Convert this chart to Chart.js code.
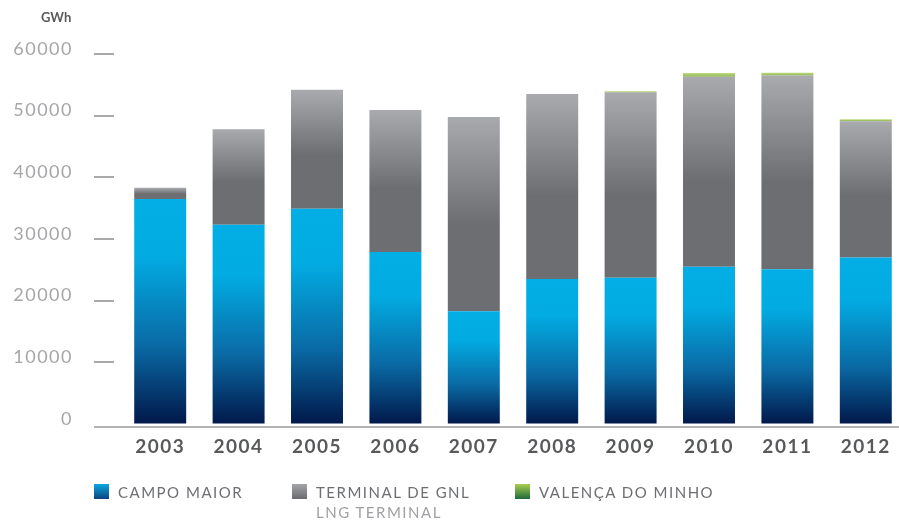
<!DOCTYPE html>
<html>
<head>
<meta charset="utf-8">
<script src="https://cdn.jsdelivr.net/npm/chart.js@4/dist/chart.umd.min.js"></script>
<style>
  html, body { margin: 0; padding: 0; background: #fff; overflow: hidden; }
  #wrap { position: relative; width: 906px; height: 520px; }
  #unit { position: absolute; left: 41px; top: 9px; font: 700 13px Lato, "Open Sans", sans-serif; color: #58595b; }
  .item { position: absolute; top: 484px; display: flex; align-items: flex-start; }
  .item:nth-child(1) { left: 94px; }
  .item:nth-child(2) { left: 292px; }
  .item:nth-child(3) { left: 515px; }
  .sw { width: 15px; height: 15px; flex: none; }
  .txt { margin-left: 9px; font: 400 15px Lato, "Open Sans", sans-serif; letter-spacing: 1.5px; color: #6d6e71; line-height: 18px; margin-top: -1px; }
  .txt .note { display: block; color: #a0a1a4; margin-top: 2px; }
</style>
</head>
<body>
<div id="wrap">
  <canvas id="chart" width="906" height="520"></canvas>
  <div id="unit">GWh</div>
  <div id="legend"></div>
</div>
<script>
// Natural gas entries by entry point, GWh
const years = ['2003', '2004', '2005', '2006', '2007', '2008', '2009', '2010', '2011', '2012'];
const campoMaior   = [36500, 32300, 34900, 27900, 18300, 23500, 23700, 25500, 25100, 27000];
const terminalGNL  = [1800, 15500, 19300, 23000, 31500, 30000, 30100, 30800, 31400, 22100];
const valencaMinho = [0, 0, 0, 0, 0, 0, 150, 600, 450, 300];
const yTickValues  = [0, 10000, 20000, 30000, 40000, 50000, 60000];
const seriesNames  = ['CAMPO MAIOR', 'TERMINAL DE GNL', 'VALENÇA DO MINHO'];
const seriesNotes  = ['', 'LNG TERMINAL', ''];

// colour stops used inside each bar segment (top -> bottom)
const blueStops  = [[0, '#02aee5'], [0.25, '#02ace3'], [0.65, '#0a6aa5'], [1, '#01184a']];
const greyStops  = [[0, '#a9aaae'], [0.55, '#6d6e72'], [1, '#6d6e72']];
const greenStops = [[0, '#bddb7c'], [1, '#8db552']];
// legend swatches
const swatches = [
  'linear-gradient(#0ba9e1, #0b437f)',
  'linear-gradient(#a4a5a9, #6a6b6f)',
  'linear-gradient(#a8cf50, #1f6a3a)'
];

function segmentFill(stops) {
  return (c) => {
    const chart = c.chart;
    if (!chart.chartArea || c.type !== 'data') return stops[0][1];
    const y = chart.scales.y;
    const i = c.dataIndex;
    let base = 0;
    for (let k = 0; k < c.datasetIndex; k++) base += chart.data.datasets[k].data[i];
    const v = chart.data.datasets[c.datasetIndex].data[i];
    const top = y.getPixelForValue(base + v);
    const bottom = y.getPixelForValue(base);
    if (bottom - top < 0.5) return stops[0][1];
    const g = chart.ctx.createLinearGradient(0, top, 0, bottom);
    stops.forEach(([o, col]) => g.addColorStop(o, col));
    return g;
  };
}

// short tick dashes beside the value labels and the grey base line
const axisDecor = {
  id: 'axisDecor',
  beforeDraw(chart) { chart.ctx.letterSpacing = '1.5px'; },
  afterDraw(chart) {
    const { ctx, scales: { y } } = chart;
    ctx.save();
    ctx.letterSpacing = '0px';
    ctx.strokeStyle = '#a9a9ac';
    ctx.lineWidth = 2;
    yTickValues.forEach(v => {
      if (v === 0) return;
      const py = Math.round(y.getPixelForValue(v));
      ctx.beginPath();
      ctx.moveTo(94, py);
      ctx.lineTo(114, py);
      ctx.stroke();
    });
    const by = Math.round(y.getPixelForValue(0)) + 3;
    ctx.strokeStyle = '#b3b3b6';
    ctx.lineWidth = 2;
    ctx.beginPath();
    ctx.moveTo(94, by);
    ctx.lineTo(chart.width, by);
    ctx.stroke();
    ctx.restore();
  }
};

const chart = new Chart(document.getElementById('chart'), {
  type: 'bar',
  data: {
    labels: years,
    datasets: [
      { label: seriesNames[0], data: campoMaior,   backgroundColor: segmentFill(blueStops) },
      { label: seriesNames[1], data: terminalGNL,  backgroundColor: segmentFill(greyStops) },
      { label: seriesNames[2], data: valencaMinho, backgroundColor: segmentFill(greenStops) }
    ]
  },
  options: {
    responsive: false,
    animation: false,
    events: [],
    datasets: { bar: { categoryPercentage: 1, barPercentage: 0.663, borderWidth: 0 } },
    layout: { padding: { top: 54, right: 1, left: 0, bottom: 0 } },
    plugins: { legend: { display: false }, tooltip: { enabled: false } },
    scales: {
      x: {
        stacked: true,
        grid: { display: false, drawTicks: false },
        border: { display: false },
        ticks: { color: '#58595b', padding: 11, font: { family: 'Lato', weight: 'bold', size: 19 } },
        afterFit: (s) => { s.height = 96; }
      },
      y: {
        stacked: true,
        min: 0,
        max: 60000,
        afterBuildTicks: (s) => { s.ticks = yTickValues.map(v => ({ value: v })); },
        // invisible tick marks keep the labels clear of the dashes
        grid: { display: true, drawOnChartArea: false, drawTicks: true, tickLength: 44, tickColor: 'rgba(0,0,0,0)' },
        border: { display: false },
        ticks: {
          color: '#a6a6a9',
          padding: 4,
          labelOffset: -5,
          callback: (v) => String(v),
          font: { family: 'Lato', weight: 'normal', size: 18 }
        },
        afterFit: (s) => { s.width = 121; }
      }
    }
  },
  plugins: [axisDecor]
});

// legend built from the dataset labels
const legend = document.getElementById('legend');
chart.data.datasets.forEach((ds, i) => {
  const item = document.createElement('div');
  item.className = 'item';
  const sw = document.createElement('div');
  sw.className = 'sw';
  sw.style.background = swatches[i];
  const txt = document.createElement('div');
  txt.className = 'txt';
  txt.textContent = ds.label;
  if (seriesNotes[i]) {
    const note = document.createElement('span');
    note.className = 'note';
    note.textContent = seriesNotes[i];
    txt.appendChild(note);
  }
  item.appendChild(sw);
  item.appendChild(txt);
  legend.appendChild(item);
});
</script>
</body>
</html>
